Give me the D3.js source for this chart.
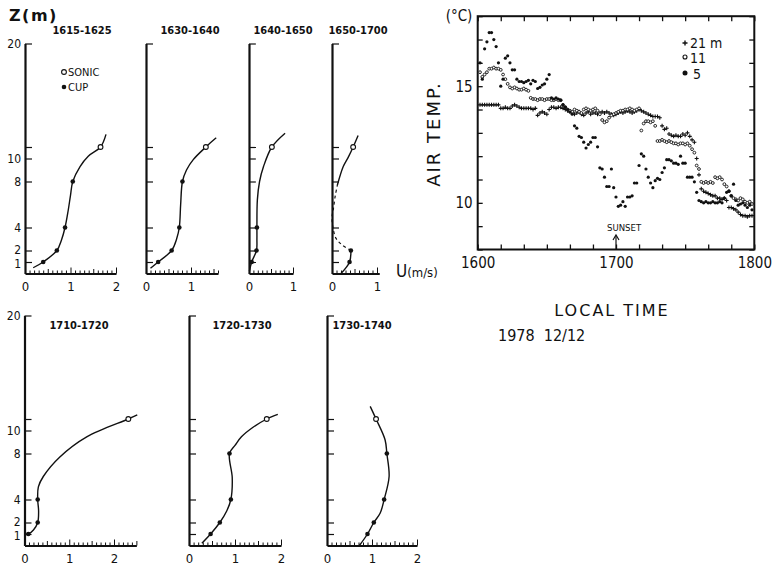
<!DOCTYPE html>
<html>
<head>
<meta charset="utf-8">
<script src="https://d3js.org/d3.v7.min.js"></script>
<style>
body { margin: 0; background: #fff; }
svg { display: block; }
text { font-family: "DejaVu Sans Condensed", "DejaVu Sans", sans-serif; fill: #111; }
.axis path, .axis line { stroke: #111; }
</style>
</head>
<body>
<div class="chart"></div>
<script>
// ---- wind profiles (U in m/s, Z in m) ----
var periods = ["1615-1625", "1630-1640", "1640-1650", "1650-1700", "1710-1720", "1720-1730", "1730-1740"];
var cupHeights = [1, 2, 4, 8];
var sonicHeight = 11;
var zTicks = [1, 2, 4, 8, 10, 11, 20];
var zTickLabels = [1, 2, 4, 8, 10, 20];

var cupU1615 = [0.40, 0.70, 0.88, 1.05];
var cupU1630 = [0.27, 0.57, 0.74, 0.81];
var cupU1640 = [0.06, 0.17, 0.18];
var cupU1650 = [0.39, 0.42];
var cupU1710 = [0.085, 0.295, 0.295];
var cupU1720 = [0.47, 0.67, 0.91, 0.88];
var cupU1730 = [0.90, 1.04, 1.27, 1.33];
var sonicU = [1.66, 1.33, 0.52, 0.47, 2.32, 1.69, 1.09];

// hand fitted curves, [u, z]
var curve1615 = [[0.18,0.5],[0.40,1],[0.70,2],[0.80,2.9],[0.88,4],[0.95,5.5],[1.0,6.8],[1.05,8],[1.21,9.3],[1.39,10.2],[1.66,11],[1.78,12.1]];
var curve1630 = [[0.10,0.45],[0.27,1],[0.57,2],[0.68,3],[0.74,4],[0.77,6],[0.81,8],[0.90,9.0],[1.05,9.9],[1.33,11],[1.56,11.8]];
var curve1640 = [[0.01,0.2],[0.06,1],[0.17,2],[0.18,3],[0.18,4],[0.19,6.4],[0.24,8],[0.33,9.3],[0.52,11],[0.82,12.2]];
var curve1650low = [[0.2,0],[0.39,1],[0.42,2]];
var curve1650mid = [[0.42,2],[0.22,2.5],[0.09,3.05],[0.03,3.8],[0.0,4.9],[0.03,5.6],[0.07,6.7],[0.12,7.7]];
var curve1650up = [[0.12,7.7],[0.25,9.3],[0.36,10.1],[0.47,11],[0.58,12]];
var curve1710 = [[0.0,1.0],[0.085,1.0],[0.2,1.35],[0.295,2],[0.315,3],[0.295,4],[0.31,5.1],[0.42,6.0],[0.79,7.7],[1.39,9.45],[2.32,11],[2.52,11.35]];
var curve1720 = [[0.28,0.2],[0.47,1],[0.67,2],[0.82,3],[0.91,4],[0.94,5.9],[0.88,8],[1.0,8.7],[1.14,9.45],[1.40,10.3],[1.69,11],[1.93,11.4]];
var curve1730 = [[0.72,0],[0.90,1],[1.04,2],[1.18,2.8],[1.27,4],[1.38,6],[1.33,8],[1.29,9.2],[1.09,11],[0.96,12.1]];

// ---- air temperature, one reading per minute after 1600 ----
var tempMinutes = d3.range(1, 120);
var temp21 = [14.2,14.2,14.2,14.2,14.2,14.2,14.2,14.2,14.2,
  14.05,14.05,14.1,14.05,14.05, 14.15,14.2,14.15,14.1,
  14.05,14.05,14.05,14.05,14.05,14.0,14.05, 13.75, 13.85,13.9,13.85,13.8,
  14.0,14.1,14.1,14.05,14.1,14.1,14.05,14.0,13.95,
  13.9,13.85,13.8,13.85,13.9,13.8,13.75,13.85,13.9,13.8,13.85,
  13.85,13.8,13.85,13.9,13.85,13.9,13.85,13.8,13.75,13.8,
  13.85,13.9,13.85,13.9,13.95,13.9,13.85,13.9,13.95,14.0,
  13.95,13.9,13.85,13.8,13.75,13.7,13.7,13.7,13.65,13.3,
  13.15,13.2,12.95,12.9,12.85,12.9,12.85,12.85,12.95,12.9,13.0,12.85,12.7,12.6,
  11.9,11.2,10.6,10.5,10.45,
  10.4,10.35,10.3,10.3,10.2,10.2,10.15,10.2,10.1,9.8,9.8,
  9.75,9.7,9.6,9.5,9.45,9.45,9.4,9.45,9.45];
var temp11 = [15.6,15.4,15.5,15.6, 15.75,15.75,15.8,15.75,15.75,15.7,
  15.5,15.3,15.1,14.95, 14.9,14.95,14.9,14.85,14.85,14.9,14.85,14.8,
  14.5,14.45,14.45,14.4,14.45,14.45,14.4,14.45,14.45,14.4,14.4,14.45,14.4,14.4,
  14.2,14.1,14.0,13.95,13.9,14.0,13.95,13.9,13.85,
  14.0,14.05,14.0,13.95,14.0,14.05,13.95,13.8, 13.55,13.45,13.5,13.65,
  13.75,13.8,13.85,13.9,13.95,13.95,14.0,14.0,14.05,14.0,13.95,14.0,14.05,
  13.1,13.4,13.5,13.5,13.45,13.5,13.3,
  12.65,12.65,12.7,12.65,12.6,12.65,12.6,12.55,12.55,12.5,12.55,12.55,12.5,12.55,12.45,12.3,12.15,
  11.6,11.45,
  10.9,10.85,10.9,10.85,10.9,10.85,11.1,11.05,11.1,11.0,
  10.8,10.7,10.5,10.3,10.2,10.15,10.1,10.2,10.15,10.05,10.0,10.05,9.95];
var temp5 = [16.0,15.3,16.6,16.9,17.3,17.3,17.0,16.7,16.0,15.0,15.3,16.2,16.3,16.0,15.7,15.7,
  15.3,15.2,15.2,15.15,15.2,15.25,15.1,15.25,15.2,14.9,14.95,15.05,15.1,15.3,15.5,
  14.5,14.45,14.5,14.45,14.4,14.2,14.1,14.0,13.9,
  13.8,13.3,13.2,12.85,12.8,12.6,12.35,12.5,12.6,12.8,12.8,12.4,
  11.5,11.45,11.1,10.7,10.7,11.45,10.65,
  10.25,9.85,9.9,10.05,9.85,10.25,10.25,10.3,10.85,10.85,
  11.6,12.1,12.0,11.45,11.1,10.85,10.65,10.95,11.05,11.0,
  11.3,11.5,11.85,11.85,11.8,11.7,11.7,11.65,12.0,11.7,11.7,11.1,11.1,11.1,10.9,10.45,
  10.1,10.05,10.0,10.05,10.0,10.0,10.05,10.0,10.0,10.05,10.0,
  10.2,10.45,10.5,10.3,10.8,10.1,9.9,9.95,10.0,9.9,9.8,9.9,9.7];
var timeTickLabels = ["1600", "1700", "1800"];
var tempTickLabels = [10, 15];

var svg = d3.select(".chart").append("svg")
  .attr("width", 774)
  .attr("height", 569);

// panel layout
var rows = { top: { base: 273.5, title: 34 }, bottom: { base: 545.5, title: 329 } };
var panels = [
  { row: "top", x0: 25, ppu: 45.5, uMax: 2, labels: [0, 1, 2], zLab: true, tx: 82, cup: cupU1615, curves: [curve1615] },
  { row: "top", x0: 146, ppu: 45, uMax: 1.6, labels: [0, 1], tx: 190, cup: cupU1630, curves: [curve1630] },
  { row: "top", x0: 249, ppu: 44, uMax: 1.0, labels: [0, 1], tx: 283, cup: cupU1640, curves: [curve1640] },
  { row: "top", x0: 332, ppu: 45, uMax: 1.05, labels: [0, 1], tx: 358, cup: cupU1650, curves: [curve1650low, curve1650up], dashed: curve1650mid },
  { row: "bottom", x0: 24.5, ppu: 44.75, uMax: 2.5, labels: [0, 1, 2], zLab: true, tx: 79, cup: cupU1710, curves: [curve1710] },
  { row: "bottom", x0: 189, ppu: 46, uMax: 2.0, labels: [0, 1, 2], tx: 242, cup: cupU1720, curves: [curve1720] },
  { row: "bottom", x0: 327, ppu: 45, uMax: 2.0, labels: [0, 1, 2], tx: 362, cup: cupU1730, curves: [curve1730] }
];

panels.forEach(function(p, i) {
  var base = rows[p.row].base;
  var x = d3.scaleLinear().domain([0, p.uMax]).range([p.x0, p.x0 + p.uMax * p.ppu]);
  var z = d3.scaleLinear().domain([0, 20]).range([base, base - 230]);
  var g = svg.append("g");

  // minor x ticks every 0.1
  var minor = d3.range(0, p.uMax + 0.001, 0.1).map(function(d) { return +d.toFixed(1); });
  g.append("g")
    .attr("class", "axis")
    .attr("transform", `translate(0, ${base})`)
    .call(d3.axisBottom(x).tickValues(minor).tickSizeInner(-3).tickSizeOuter(0).tickFormat(""))
    .call(function(a) {
      a.select(".domain").attr("stroke-width", 2);
      a.selectAll(".tick line").attr("stroke-width", 1)
        .attr("y2", function(d) { return Math.abs(d - Math.round(d)) < 0.01 ? -6 : (Math.abs(d * 2 - Math.round(d * 2)) < 0.01 ? -4.5 : -3); });
    });
  g.append("g")
    .attr("transform", `translate(0, ${base})`)
    .call(d3.axisBottom(x).tickValues(p.labels).tickSize(0).tickPadding(8).tickFormat(d3.format("d")))
    .call(function(a) {
      a.select(".domain").remove();
      a.selectAll("text").attr("font-size", 13).attr("fill", "#111");
    });

  g.append("g")
    .attr("class", "axis")
    .attr("transform", `translate(${p.x0}, 0)`)
    .call(d3.axisLeft(z).tickValues(zTicks).tickSizeInner(-7).tickSizeOuter(0).tickPadding(4)
      .tickFormat(function(d) { return p.zLab && zTickLabels.indexOf(d) >= 0 ? d : ""; }))
    .call(function(a) {
      a.select(".domain").attr("stroke-width", 2.2);
      a.selectAll(".tick line").attr("stroke-width", 1.2);
      a.selectAll("text").attr("font-size", 12).attr("fill", "#111")
        .attr("dy", function(d) { return d === 1 ? "0.45em" : (d === 2 ? "0.22em" : "0.32em"); });
    });

  var line = d3.line()
    .x(function(d) { return x(d[0]); })
    .y(function(d) { return z(d[1]); })
    .curve(d3.curveCatmullRom.alpha(0.5));

  p.curves.forEach(function(c) {
    g.append("path").attr("d", line(c))
      .attr("fill", "none").attr("stroke", "#111").attr("stroke-width", 1.4);
  });
  if (p.dashed) {
    g.append("path").attr("d", line(p.dashed))
      .attr("fill", "none").attr("stroke", "#111").attr("stroke-width", 1.2)
      .attr("stroke-dasharray", "3,3");
  }

  g.selectAll(".cup").data(p.cup).enter().append("circle")
    .attr("cx", function(d) { return x(d); })
    .attr("cy", function(d, j) { return z(cupHeights[j]); })
    .attr("r", 2.3).attr("fill", "#111");
  g.append("circle")
    .attr("cx", x(sonicU[i])).attr("cy", z(sonicHeight))
    .attr("r", 2.4).attr("fill", "#fff").attr("stroke", "#111").attr("stroke-width", 1.1);

  g.append("text")
    .attr("x", p.tx).attr("y", rows[p.row].title)
    .attr("text-anchor", "middle")
    .attr("font-size", 11).attr("font-weight", "bold")
    .text(periods[i]);
});

// profile legend and labels
svg.append("circle").attr("cx", 64).attr("cy", 72).attr("r", 2.4)
  .attr("fill", "#fff").attr("stroke", "#111").attr("stroke-width", 1.1);
svg.append("text").attr("x", 68).attr("y", 76).attr("font-size", 11).text("SONIC");
svg.append("circle").attr("cx", 64).attr("cy", 87).attr("r", 2.3).attr("fill", "#111");
svg.append("text").attr("x", 68).attr("y", 91).attr("font-size", 11).text("CUP");

svg.append("text").attr("x", 9).attr("y", 21)
  .attr("font-size", 16).attr("font-weight", "bold").attr("letter-spacing", 1.5)
  .style("font-family", "'DejaVu Sans', sans-serif")
  .text("Z(m)");

var uLab = svg.append("text").attr("x", 396).attr("y", 277);
uLab.append("tspan").attr("font-size", 17).text("U");
uLab.append("tspan").attr("font-size", 13).text("(m/s)");

// ---- temperature chart ----
var tx = d3.scaleLinear().domain([0, 120]).range([477.7, 754.3]);
var ty = d3.scaleLinear().domain([8, 18]).range([249.5, 16.2]);
var tg = svg.append("g");

tg.append("rect")
  .attr("x", tx(0)).attr("y", ty(18))
  .attr("width", tx(120) - tx(0)).attr("height", ty(8) - ty(18))
  .attr("fill", "none").attr("stroke", "#111").attr("stroke-width", 2);

var minuteTicks = d3.range(0, 121, 10);
var degreeTicks = d3.range(8, 19, 1);

function styleTicks(a) {
  a.select(".domain").remove();
  a.selectAll(".tick line").attr("stroke", "#111").attr("stroke-width", 1.3);
  a.selectAll("text").attr("font-size", 15).attr("fill", "#111");
}

tg.append("g").attr("transform", `translate(0, ${ty(8)})`)
  .call(d3.axisBottom(tx).tickValues(minuteTicks).tickSizeInner(-5).tickSizeOuter(0).tickPadding(8)
    .tickFormat(function(d) { return d % 60 === 0 ? timeTickLabels[d / 60] : ""; }))
  .call(styleTicks);
tg.append("g").attr("transform", `translate(0, ${ty(18)})`)
  .call(d3.axisTop(tx).tickValues(minuteTicks).tickSizeInner(-5).tickSizeOuter(0).tickFormat(""))
  .call(styleTicks);
tg.append("g").attr("transform", `translate(${tx(0)}, 0)`)
  .call(d3.axisLeft(ty).tickValues(degreeTicks).tickSizeInner(-5).tickSizeOuter(0).tickPadding(5)
    .tickFormat(function(d) { return tempTickLabels.indexOf(d) >= 0 ? d : ""; }))
  .call(styleTicks);
tg.append("g").attr("transform", `translate(${tx(120)}, 0)`)
  .call(d3.axisRight(ty).tickValues(degreeTicks).tickSizeInner(-5).tickSizeOuter(0).tickFormat(""))
  .call(styleTicks);

function pts(vals) {
  return vals.map(function(v, j) { return { t: tempMinutes[j], v: v }; });
}

tg.selectAll(".p21").data(pts(temp21)).enter().append("path")
  .attr("transform", function(d) { return `translate(${tx(d.t)}, ${ty(d.v)})`; })
  .attr("d", "M-2,0H2M0,-2V2")
  .attr("stroke", "#111").attr("stroke-width", 1.1);
tg.selectAll(".p11").data(pts(temp11)).enter().append("circle")
  .attr("cx", function(d) { return tx(d.t); })
  .attr("cy", function(d) { return ty(d.v); })
  .attr("r", 1.4).attr("fill", "#fff").attr("stroke", "#111").attr("stroke-width", 0.9);
tg.selectAll(".p5").data(pts(temp5)).enter().append("circle")
  .attr("cx", function(d) { return tx(d.t); })
  .attr("cy", function(d) { return ty(d.v); })
  .attr("r", 1.6).attr("fill", "#111");

// legend
var lg = tg.append("g");
lg.append("path").attr("transform", "translate(685, 43)").attr("d", "M-2.5,0H2.5M0,-2.5V2.5")
  .attr("stroke", "#111").attr("stroke-width", 1.4);
lg.append("text").attr("x", 690).attr("y", 48).attr("font-size", 14).text("21 m");
lg.append("circle").attr("cx", 685).attr("cy", 57).attr("r", 2).attr("fill", "#fff")
  .attr("stroke", "#111").attr("stroke-width", 1.1);
lg.append("text").attr("x", 690).attr("y", 62.5).attr("font-size", 14).text("11");
lg.append("circle").attr("cx", 685).attr("cy", 73).attr("r", 2.5).attr("fill", "#111");
lg.append("text").attr("x", 693).attr("y", 78.5).attr("font-size", 14).text("5");

// sunset marker
tg.append("text").attr("x", tx(60) - 9).attr("y", 231).attr("font-size", 9.5).text("SUNSET");
tg.append("line").attr("x1", tx(60)).attr("x2", tx(60)).attr("y1", ty(8)).attr("y2", 236)
  .attr("stroke", "#111").attr("stroke-width", 1.2);
tg.append("path").attr("d", `M${tx(60) - 3},${240}L${tx(60)},${235}L${tx(60) + 3},${240}`)
  .attr("fill", "none").attr("stroke", "#111").attr("stroke-width", 1.2);

tg.append("text").attr("x", 459).attr("y", 21).attr("font-size", 15)
  .attr("text-anchor", "middle").text("(°C)");
tg.append("text")
  .attr("transform", "translate(440, 134) rotate(-90)")
  .attr("text-anchor", "middle")
  .attr("font-size", 18).attr("letter-spacing", 2)
  .style("font-family", "'DejaVu Sans', sans-serif")
  .text("AIR TEMP.");

svg.append("text").attr("x", 612).attr("y", 316).attr("text-anchor", "middle")
  .attr("font-size", 16).attr("letter-spacing", 2)
  .style("font-family", "'DejaVu Sans', sans-serif")
  .text("LOCAL TIME");
svg.append("text").attr("x", 498).attr("y", 341).attr("font-size", 16)
  .attr("xml:space", "preserve")
  .text("1978  12/12");
</script>
</body>
</html>
